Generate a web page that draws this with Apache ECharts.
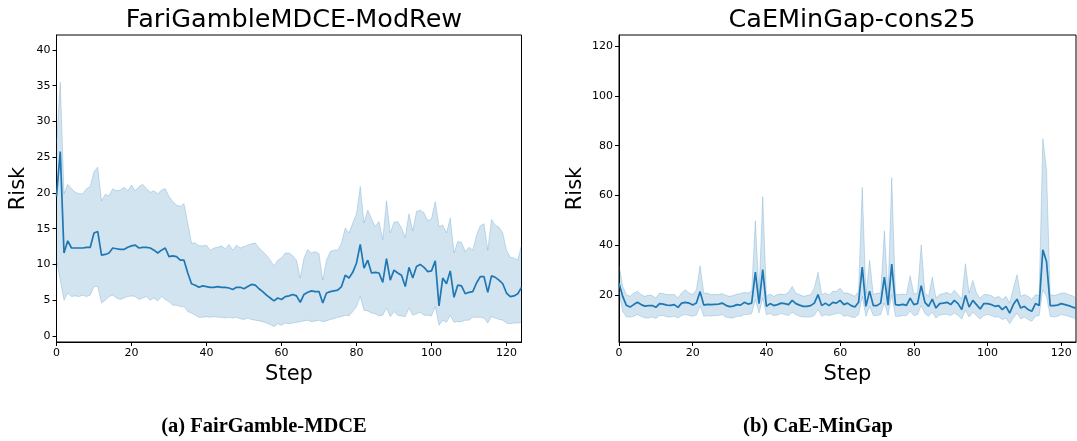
<!DOCTYPE html>
<html>
<head>
<meta charset="utf-8">
<script src="https://cdn.jsdelivr.net/npm/echarts@6/dist/echarts.min.js"></script>
<style>
html,body{margin:0;padding:0;background:#fff;}
#chart{width:1077px;height:441px;}
</style>
</head>
<body>
<div id="chart"></div>
<script>
// ---------- data ----------
const steps = Array.from({length:125}, (_, i) => String(i));

const leftTitle = "FariGambleMDCE-ModRew";
const rightTitle = "CaEMinGap-cons25";
const leftCaption = "(a) FairGamble-MDCE";
const rightCaption = "(b) CaE-MinGap";
const leftYTicks = [0,5,10,15,20,25,30,35,40];
const rightYTicks = [20,40,60,80,100,120];

const leftMean = [19.5,25.8,11.6,13.3,12.3,12.3,12.3,12.3,12.4,12.4,14.4,14.6,11.3,11.4,11.6,12.3,12.2,12.1,12.1,12.4,
12.6,12.7,12.3,12.4,12.4,12.3,12.0,11.6,12.0,12.3,11.1,11.2,11.1,10.6,10.6,8.8,7.3,7.1,6.8,7.0,
6.9,6.8,6.8,6.9,6.8,6.8,6.7,6.5,6.8,6.8,6.6,6.9,7.2,7.1,6.6,6.2,5.7,5.3,4.9,5.3,
5.1,5.5,5.6,5.8,5.6,4.7,5.8,6.1,6.3,6.2,6.2,4.6,6.0,6.2,6.3,6.4,6.9,8.5,8.1,8.9,
10.2,12.8,9.5,10.6,8.8,8.9,8.8,7.5,10.8,7.8,9.2,8.8,8.5,6.9,9.6,8.1,9.7,10.0,9.6,9.0,
9.1,10.5,4.2,8.1,7.3,9.1,5.4,7.1,7.0,5.9,6.1,6.2,7.4,8.3,8.3,6.1,8.4,8.2,7.8,7.3,
6.0,5.5,5.6,5.9,6.8];
const leftUpper = [27.0,35.5,19.9,21.2,20.6,20.1,19.9,19.9,20.6,20.9,23.0,23.6,18.9,19.8,19.6,20.6,20.3,20.4,20.8,20.3,
21.1,20.3,20.9,21.2,20.6,20.1,20.3,19.9,20.4,20.6,19.5,18.8,18.3,18.1,18.5,15.8,13.0,13.0,12.6,12.6,
12.7,12.0,12.3,12.4,12.6,12.2,12.8,12.0,12.7,12.3,12.5,12.7,12.9,13.0,12.3,11.8,11.3,10.6,9.8,10.6,
10.9,11.6,11.6,11.2,10.6,8.1,10.9,12.1,11.6,11.8,11.5,7.8,10.6,11.8,12.0,12.0,13.0,15.1,14.4,15.8,
17.1,20.9,15.8,17.6,16.4,15.3,16.0,13.5,18.9,14.4,15.9,16.0,15.1,13.8,17.1,14.7,17.4,17.6,17.2,16.1,
16.4,18.8,15.3,15.5,14.4,16.5,11.6,13.2,13.1,11.8,12.4,12.0,14.1,15.4,15.7,12.0,16.3,15.5,15.2,14.4,
12.0,11.0,10.9,10.6,12.7];
const leftLower = [10.6,7.8,5.0,6.0,5.5,5.6,5.5,5.7,5.5,5.7,6.9,6.9,4.6,5.0,5.5,5.7,5.3,5.1,5.3,5.5,
5.6,5.5,5.1,5.3,5.5,5.0,5.3,4.9,5.5,5.1,4.8,4.3,4.3,4.1,4.1,3.4,3.2,2.9,2.6,2.6,
2.7,2.6,2.7,2.6,2.6,2.5,2.6,2.5,2.6,2.4,2.3,2.5,2.3,2.2,2.1,2.0,1.8,1.6,1.3,1.7,
1.5,1.8,1.7,1.8,1.9,2.0,2.1,2.2,2.0,2.1,2.2,2.0,2.1,2.3,2.4,2.6,2.7,2.9,2.8,3.4,
4.1,5.5,3.6,3.5,3.2,3.1,2.8,2.9,3.9,2.7,3.4,2.9,2.8,2.7,3.9,2.9,3.1,3.3,2.9,2.9,
2.8,4.1,1.5,2.2,1.9,2.9,1.9,2.0,2.0,2.2,2.2,2.6,2.6,2.6,2.5,1.8,2.7,2.5,2.3,2.2,
1.8,1.7,1.8,1.8,1.9];

const rightMean = [24.9,19.6,16.0,15.3,16.3,17.2,16.3,15.7,15.9,15.9,15.2,16.7,16.5,16.1,16.0,16.3,15.2,16.9,17.2,16.9,
16.1,16.9,21.5,16.1,16.4,16.3,16.4,16.5,16.9,16.0,15.5,15.7,16.3,16.1,17.2,16.5,16.9,29.3,16.7,30.3,
15.6,16.7,15.9,16.3,16.9,16.7,16.3,18.0,16.7,16.1,15.6,15.6,15.9,16.9,20.3,15.9,16.9,15.9,17.2,16.9,
18.0,16.3,16.9,15.9,15.3,17.2,31.3,15.6,21.7,15.9,15.9,16.9,27.3,16.1,32.5,16.3,16.1,16.4,16.0,18.9,
16.3,16.7,23.9,17.2,15.6,18.5,14.9,16.7,16.9,17.2,16.3,18.0,16.7,14.3,20.0,15.3,18.0,16.3,14.5,16.7,
16.7,16.3,15.6,15.9,14.3,15.6,12.9,16.3,18.5,14.9,15.6,14.3,13.6,16.7,15.9,38.3,33.6,15.9,15.9,16.1,
16.7,16.3,15.9,15.3,14.9];
const rightUpper = [32.3,23.6,20.3,19.6,20.9,21.6,20.3,19.6,20.1,19.9,18.9,20.9,20.7,20.3,20.3,20.3,18.9,20.9,22.3,20.9,
20.3,22.3,31.9,20.9,20.9,20.3,20.3,20.3,20.7,20.0,19.6,19.9,20.5,20.7,21.2,20.9,21.6,49.9,20.9,59.6,
19.6,20.5,19.6,20.3,20.5,20.3,21.2,23.6,20.9,20.3,19.6,19.9,20.3,22.9,29.3,20.3,20.9,20.1,21.6,21.6,
22.9,20.9,20.9,20.3,19.6,21.6,63.3,20.3,34.0,20.3,20.9,20.9,45.9,20.5,67.2,20.3,20.3,20.5,20.3,27.9,
20.5,20.9,40.3,20.9,19.6,27.3,18.9,20.3,20.7,21.2,20.3,22.0,20.3,18.5,32.7,20.9,26.0,20.9,18.9,20.3,
20.3,19.9,18.9,19.6,18.3,19.6,16.9,22.9,28.3,19.6,20.3,19.6,18.3,20.3,19.9,82.9,70.3,20.3,19.9,20.3,
20.9,20.9,20.3,19.9,18.9];
const rightLower = [21.6,13.6,11.3,11.3,11.6,12.3,11.6,10.9,10.9,11.3,10.7,11.9,11.9,11.3,11.3,11.6,10.9,11.9,12.3,11.9,
11.6,12.1,15.7,11.6,11.9,11.6,11.9,11.9,12.3,11.3,10.9,10.9,11.6,11.6,12.3,12.3,12.7,18.3,12.9,18.9,
12.3,12.7,11.9,12.1,12.7,12.3,11.9,13.2,12.3,11.6,11.3,11.3,11.3,11.9,14.3,11.6,12.3,11.9,12.3,12.7,
12.9,11.6,11.9,11.3,11.1,12.3,19.6,11.6,15.6,11.9,11.9,12.3,16.9,11.9,20.3,11.6,11.6,11.9,11.9,13.6,
11.9,12.3,15.9,12.7,11.6,13.2,10.9,12.1,12.3,12.4,11.9,12.9,11.9,10.5,14.0,11.3,13.2,11.9,10.5,11.9,
12.3,11.9,11.3,11.3,10.3,10.9,8.7,10.9,12.9,10.5,11.3,10.3,9.6,11.6,11.9,22.3,19.6,11.6,11.3,11.6,
12.3,12.0,11.6,11.1,10.5];

// ---------- chart ----------
const C0 = '#1f77b4';
const fillCol = 'rgba(31,119,180,0.2)';
const edgeCol = 'rgba(31,119,180,0.22)';
const tickFont = 'DejaVu Sans';

function diff(up, lo){ return up.map((u,i)=>+(u-lo[i]).toFixed(3)); }

function bandSeries(idx, mean, upper, lower){
  return [
    {type:'line', xAxisIndex:idx, yAxisIndex:idx, stack:'ci'+idx, data:lower,
     symbol:'none', lineStyle:{color:edgeCol, width:1}, silent:true, z:1},
    {type:'line', xAxisIndex:idx, yAxisIndex:idx, stack:'ci'+idx, data:diff(upper, lower),
     symbol:'none', lineStyle:{color:edgeCol, width:1}, areaStyle:{color:fillCol, opacity:1}, silent:true, z:1},
    {type:'line', xAxisIndex:idx, yAxisIndex:idx, data:mean,
     symbol:'none', lineStyle:{color:C0, width:1.7}, z:3}
  ];
}

function xAxisDef(idx){
  return {
    type:'category', gridIndex:idx, data:steps, boundaryGap:false,
    axisLine:{show:true, onZero:false, lineStyle:{color:'#000', width:1}},
    axisTick:{show:true, length:4, interval:19, lineStyle:{color:'#000'}},
    axisLabel:{color:'#000', fontFamily:tickFont, fontSize:11, margin:6, interval:19},
    splitLine:{show:false},
    name:'Step', nameLocation:'middle', nameGap:20,
    nameTextStyle:{fontFamily:tickFont, fontSize:21, color:'#000', verticalAlign:'top'}
  };
}
function yAxisDef(idx, min, max, ticks, gap){
  return {
    type:'value', gridIndex:idx, min:min, max:max,
    axisLine:{show:true, onZero:false, lineStyle:{color:'#000', width:1}},
    axisTick:{show:true, length:4, lineStyle:{color:'#000'}, customValues:ticks},
    axisLabel:{color:'#000', fontFamily:tickFont, fontSize:11, margin:6, customValues:ticks},
    splitLine:{show:false},
    name:'Risk', nameLocation:'middle', nameGap:gap, nameRotate:90,
    nameTextStyle:{fontFamily:tickFont, fontSize:21, color:'#000'}
  };
}

const chart = echarts.init(document.getElementById('chart'), null, {renderer:'canvas'});
chart.setOption({
  animation:false,
  backgroundColor:'#fff',
  title:[
    {text:leftTitle, left:289, top:2, textAlign:'center',
     textStyle:{fontFamily:tickFont, fontSize:25.5, fontWeight:'normal', color:'#000'}},
    {text:rightTitle, left:847, top:2, textAlign:'center',
     textStyle:{fontFamily:tickFont, fontSize:25.5, fontWeight:'normal', color:'#000'}}
  ],
  grid:[
    {left:56.5, width:465, top:35, height:307, show:true, borderColor:'#000', borderWidth:1, backgroundColor:'transparent'},
    {left:619, width:457, top:35, height:307, show:true, borderColor:'#000', borderWidth:1, backgroundColor:'transparent'}
  ],
  xAxis:[xAxisDef(0), xAxisDef(1)],
  yAxis:[yAxisDef(0, -0.85, 42.1, leftYTicks, 27), yAxisDef(1, 1.3, 124.4, rightYTicks, 33)],
  series:[].concat(
    bandSeries(0, leftMean, leftUpper, leftLower),
    bandSeries(1, rightMean, rightUpper, rightLower)
  ),
  graphic:[
    {type:'text', style:{text:leftCaption, x:264, y:427, align:'center', verticalAlign:'middle',
      font:'bold 20.5px "Liberation Serif", "DejaVu Serif", serif', fill:'#000'}},
    {type:'text', style:{text:rightCaption, x:818, y:427, align:'center', verticalAlign:'middle',
      font:'bold 20.5px "Liberation Serif", "DejaVu Serif", serif', fill:'#000'}}
  ]
});
</script>
</body>
</html>
